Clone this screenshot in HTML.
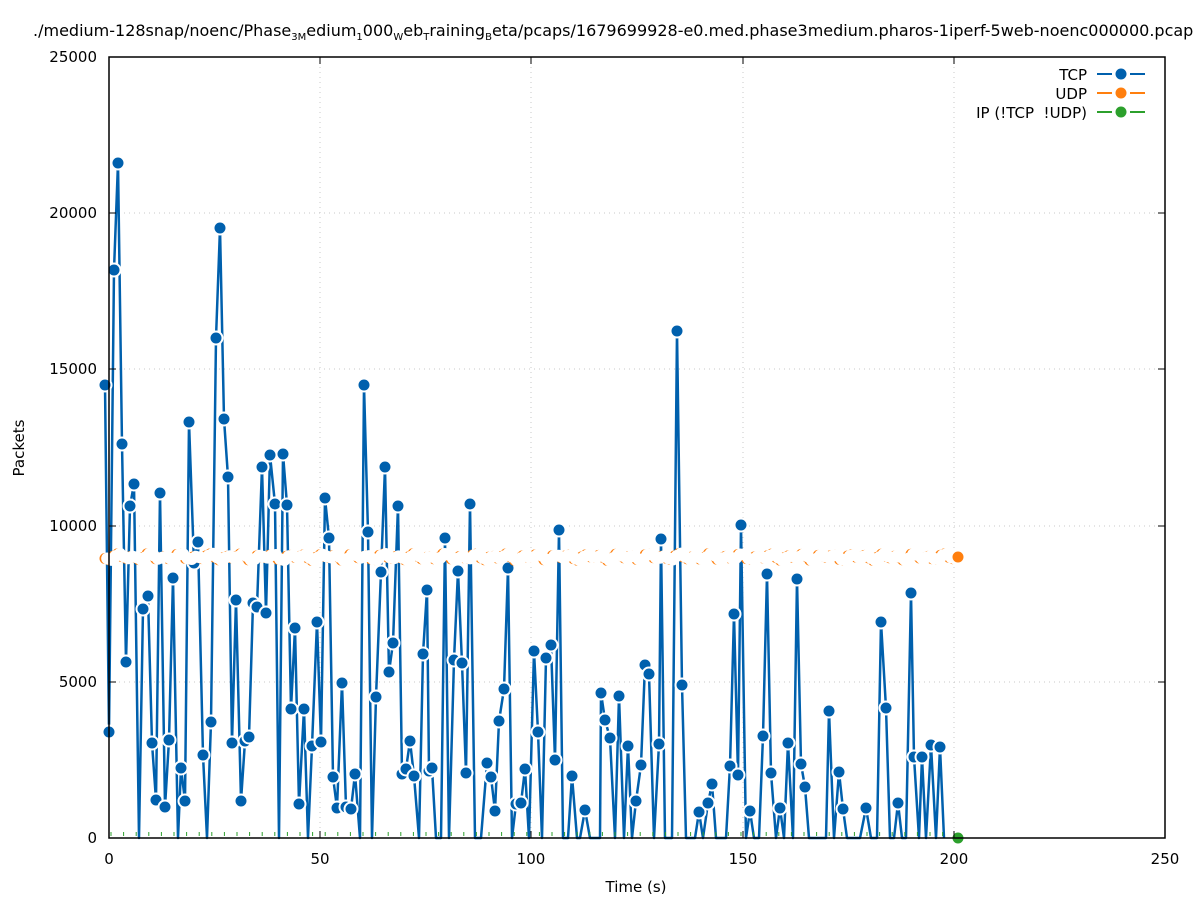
<!DOCTYPE html>
<html><head><meta charset="utf-8"><style>
html,body{margin:0;padding:0;background:#fff;}
svg text{font-family:"DejaVu Sans","Liberation Sans",sans-serif;fill:#000;}
</style></head><body>
<svg id="s" width="1197" height="900" xmlns="http://www.w3.org/2000/svg">
<rect width="1197" height="900" fill="#fff"/>
<g stroke="#c8c8c8" stroke-dasharray="1,4" stroke-width="1">
<line x1="320" y1="57" x2="320" y2="838"/><line x1="531" y1="57" x2="531" y2="838"/>
<line x1="743" y1="57" x2="743" y2="838"/><line x1="954" y1="57" x2="954" y2="838"/>
<line x1="109" y1="682" x2="1165" y2="682"/><line x1="109" y1="526" x2="1165" y2="526"/>
<line x1="109" y1="369" x2="1165" y2="369"/><line x1="109" y1="213" x2="1165" y2="213"/>
</g>
<text x="33" y="36" font-size="16">./medium-128snap/noenc/Phase<tspan font-size="10" dy="4">3M</tspan><tspan dy="-4">edium</tspan><tspan font-size="10" dy="4">1</tspan><tspan dy="-4">000</tspan><tspan font-size="10" dy="4">W</tspan><tspan dy="-4">eb</tspan><tspan font-size="10" dy="4">T</tspan><tspan dy="-4">raining</tspan><tspan font-size="10" dy="4">B</tspan><tspan dy="-4">eta/pcaps/1679699928-e0.med.phase3medium.pharos-1iperf-5web-noenc000000.pcap</tspan></text>
<g font-size="15" text-anchor="end">
<text x="97" y="843">0</text><text x="97" y="687">5000</text><text x="97" y="531">10000</text>
<text x="97" y="374">15000</text><text x="97" y="218">20000</text><text x="97" y="62">25000</text>
</g>
<g font-size="15" text-anchor="middle">
<text x="109" y="864">0</text><text x="320" y="864">50</text><text x="531" y="864">100</text>
<text x="743" y="864">150</text><text x="954" y="864">200</text><text x="1165" y="864">250</text>
<text x="636" y="892">Time (s)</text>
</g>
<text transform="translate(24,448) rotate(-90)" font-size="15" text-anchor="middle">Packets</text>
<g id="data"></g>
<rect x="109" y="57" width="1056" height="781" fill="none" stroke="#000" stroke-width="1.5"/>
<g stroke="#000" stroke-width="1">
<line x1="320" y1="838" x2="320" y2="831"/><line x1="531" y1="838" x2="531" y2="831"/><line x1="743" y1="838" x2="743" y2="831"/><line x1="954" y1="838" x2="954" y2="831"/>
<line x1="320" y1="57" x2="320" y2="64"/><line x1="531" y1="57" x2="531" y2="64"/><line x1="743" y1="57" x2="743" y2="64"/><line x1="954" y1="57" x2="954" y2="64"/>
<line x1="109" y1="682" x2="116" y2="682"/><line x1="109" y1="526" x2="116" y2="526"/><line x1="109" y1="369" x2="116" y2="369"/><line x1="109" y1="213" x2="116" y2="213"/>
<line x1="1165" y1="682" x2="1158" y2="682"/><line x1="1165" y1="526" x2="1158" y2="526"/><line x1="1165" y1="369" x2="1158" y2="369"/><line x1="1165" y1="213" x2="1158" y2="213"/>
</g>
<g font-size="15" text-anchor="end">
<text x="1087" y="80">TCP</text><text x="1087" y="99">UDP</text><text x="1087" y="118" xml:space="preserve">IP (!TCP  !UDP)</text>
</g>
<g stroke-width="2">
<line x1="1097" y1="74" x2="1112" y2="74" stroke="#0060ad"/><line x1="1130" y1="74" x2="1145" y2="74" stroke="#0060ad"/><circle cx="1121" cy="74" r="5.5" fill="#0060ad"/>
<line x1="1097" y1="93" x2="1112" y2="93" stroke="#ff7f0e"/><line x1="1130" y1="93" x2="1145" y2="93" stroke="#ff7f0e"/><circle cx="1121" cy="93" r="5.5" fill="#ff7f0e"/>
<line x1="1097" y1="112" x2="1112" y2="112" stroke="#2ca02c"/><line x1="1130" y1="112" x2="1145" y2="112" stroke="#2ca02c"/><circle cx="1121" cy="112" r="5.5" fill="#2ca02c"/>
</g>
</svg>
<script>
var P=[105,385,109,732,114,270,118,163,122,444,126,662,130,506,134,484,139,828,143,609,148,596,152,743,156,800,160,493,165,807,169,740,173,578,178,828,181,768,185,801,189,422,194,563,198,542,203,755,207,830,211,722,216,338,220,228,224,419,228,477,232,743,236,600,241,801,245,741,249,737,253,603,257,607,262,467,266,613,270,455,275,504,279,828,283,454,287,505,291,709,295,628,299,804,304,709,308,828,312,746,317,622,321,742,325,498,329,538,333,777,337,808,342,683,346,807,351,809,355,774,360,828,364,385,368,532,372,828,376,697,381,572,385,467,389,672,393,643,398,506,402,774,406,769,410,741,414,776,419,828,423,654,427,590,429,771,432,768,436,828,441,828,445,538,449,828,454,660,458,571,462,663,466,773,470,504,475,828,481,828,487,763,491,777,495,811,499,721,504,689,508,568,512,828,516,804,521,803,525,769,529,828,534,651,538,732,542,828,546,658,551,645,555,760,559,530,563,828,568,828,572,776,577,828,580,828,585,810,590,828,600,828,601,693,605,720,610,738,615,828,619,696,624,828,628,746,632,828,636,801,641,765,645,665,649,674,654,828,659,744,661,539,665,828,672,828,677,331,682,685,686,828,690,828,695,827,699,812,703,828,708,803,712,784,716,828,726,828,730,766,734,614,738,775,741,525,746,828,750,811,754,828,759,828,763,736,767,574,771,773,776,828,780,808,784,828,788,743,793,826,797,579,801,764,805,787,809,828,820,828,826,828,829,711,834,828,839,772,843,809,847,828,860,828,866,808,871,828,877,828,881,622,886,708,890,828,894,828,898,803,902,828,906,828,911,593,914,757,919,828,922,757,926,828,931,745,936,828,940,747,944,828];
for(var i=1;i<P.length;i+=2){if(P[i]>=824)P[i]=838;}
var g=document.getElementById("data"),h="";
var pts=[];for(var i=0;i<P.length;i+=2)pts.push(P[i]+","+P[i+1]);
h+='<polyline fill="none" stroke="#0060ad" stroke-width="2.5" stroke-linejoin="round" points="'+pts.join(" ")+'"/>';
for(var i=0;i<P.length;i+=2){if(P[i+1]<824)h+='<circle cx="'+P[i]+'" cy="'+P[i+1]+'" r="6.5" fill="#0060ad" stroke="#fff" stroke-width="2"/>';}
var u=[];for(var x=105,k=0;x<955;x+=4.22,k++){var y=557+2*Math.sin(k*1.7)+1.5*Math.cos(k*0.9);u.push([x,y]);}
for(var j=0;j<u.length;j++){h+='<circle cx="'+u[j][0].toFixed(1)+'" cy="'+u[j][1].toFixed(1)+'" r="5.5" fill="#ff7f0e"/>';}
for(var j=0;j<u.length;j++){h+='<circle cx="'+(u[j][0]+2.2).toFixed(1)+'" cy="'+u[j][1].toFixed(1)+'" r="6" fill="#fff"/>';}
h+='<circle cx="958" cy="557" r="6.5" fill="#ff7f0e" stroke="#fff" stroke-width="2"/>';
for(var x=111;x<955;x+=12.6){h+='<line x1="'+x.toFixed(1)+'" y1="836" x2="'+x.toFixed(1)+'" y2="832" stroke="#2ca02c" stroke-width="1"/>';}
h+='<circle cx="958" cy="838" r="6.5" fill="#2ca02c" stroke="#fff" stroke-width="2"/>';
g.innerHTML=h;
</script>
</body></html>
